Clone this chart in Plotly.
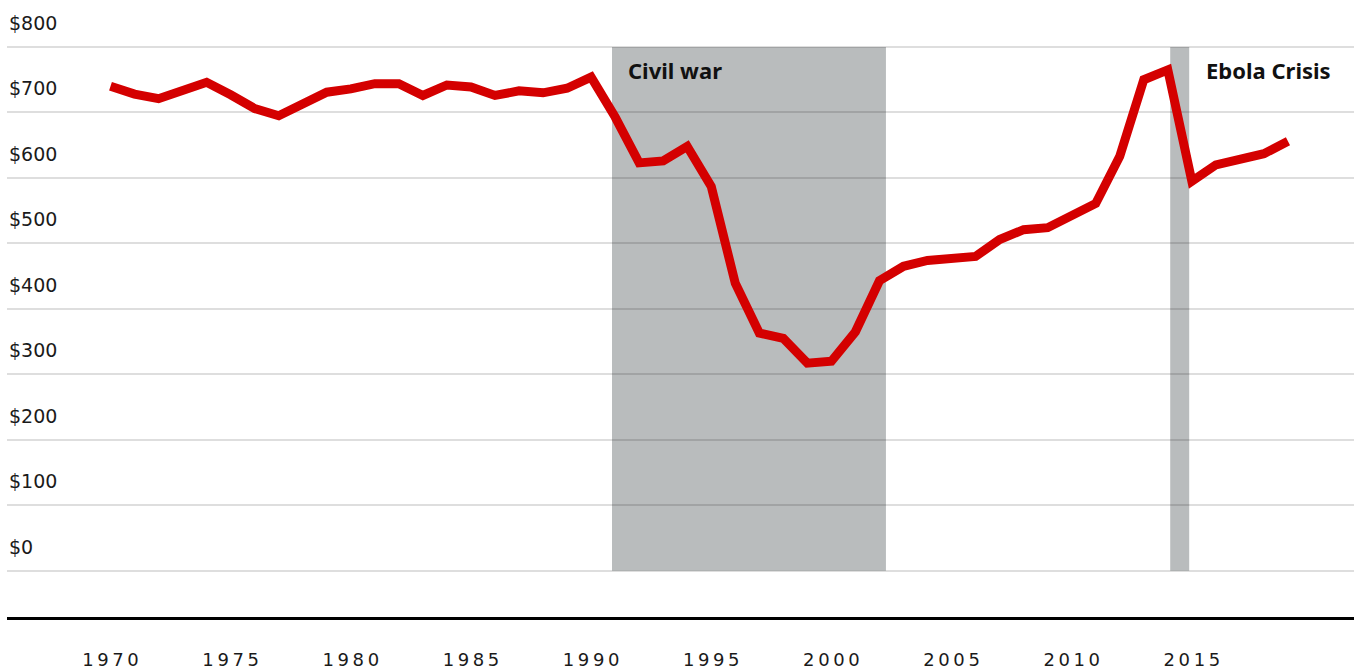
import plotly.graph_objects as go

years = list(range(1970, 2020))
gdp_per_capita = [740, 728, 721, 732, 746, 727, 706, 695, 713, 731,
                  736, 744, 744, 726, 742, 739, 726, 733, 730, 737,
                  754, 693, 623, 626, 648, 587, 439, 363, 355, 317,
                  320, 365, 443, 465, 474, 477, 480, 506, 521, 524,
                  543, 561, 633, 750, 765, 595, 620, 628, 637, 656]

y_tick_values = [0, 100, 200, 300, 400, 500, 600, 700, 800]
y_tick_labels = ["$0", "$100", "$200", "$300", "$400", "$500", "$600", "$700", "$800"]
x_tick_values = [1970, 1975, 1980, 1985, 1990, 1995, 2000, 2005, 2010, 2015]
x_tick_labels = ["\u2009".join(str(v)) for v in x_tick_values]

periods = ["Civil war", "Ebola Crisis"]
period_start = [1990.87, 2014.1]
period_end = [2002.27, 2014.89]
label_x = [1991.45, 2015.5]

fig = go.Figure()

for s, e in zip(period_start, period_end):
    fig.add_shape(type="rect", xref="x", yref="y", x0=s, x1=e, y0=0, y1=800,
                  fillcolor="#b9bcbd", line=dict(width=0), layer="below")

fig.add_trace(go.Scatter(x=years, y=gdp_per_capita, mode="lines",
                         line=dict(color="#d40000", width=9),
                         hoverinfo="skip", showlegend=False))

for name, lx in zip(periods, label_x):
    fig.add_annotation(x=lx, y=765, xref="x", yref="y", text="<b>%s</b>" % name,
                       showarrow=False, xanchor="left", yanchor="middle",
                       font=dict(family="Noto Sans", size=22, color="#111111"))

for v, t in zip(y_tick_values, y_tick_labels):
    fig.add_annotation(x=0, y=v, xref="paper", yref="y", text=t, showarrow=False,
                       xanchor="left", yanchor="middle", yshift=24, xshift=0,
                       font=dict(family="DejaVu Sans", size=19, color="#1a1a1a"))

fig.update_layout(
    width=1354, height=669,
    margin=dict(l=7, r=0, t=0, b=52),
    plot_bgcolor="white", paper_bgcolor="white",
    xaxis=dict(range=[1965.693, 2021.748], tickvals=x_tick_values, ticktext=x_tick_labels,
               showgrid=False, zeroline=False, showline=True, linecolor="black", linewidth=3,
               ticks="", ticklabelstandoff=24, automargin=False,
               tickfont=dict(family="DejaVu Sans", size=18, color="#1a1a1a")),
    yaxis=dict(range=[-70.7, 871.8], tickvals=y_tick_values, showticklabels=False,
               showgrid=True, gridcolor="rgba(0,0,0,0.13)", gridwidth=1.5,
               zeroline=False, showline=False, automargin=False),
)

fig.write_html("out.html", config={"displayModeBar": False},
               post_script="document.body.style.margin='0';document.body.style.overflow='hidden';")
